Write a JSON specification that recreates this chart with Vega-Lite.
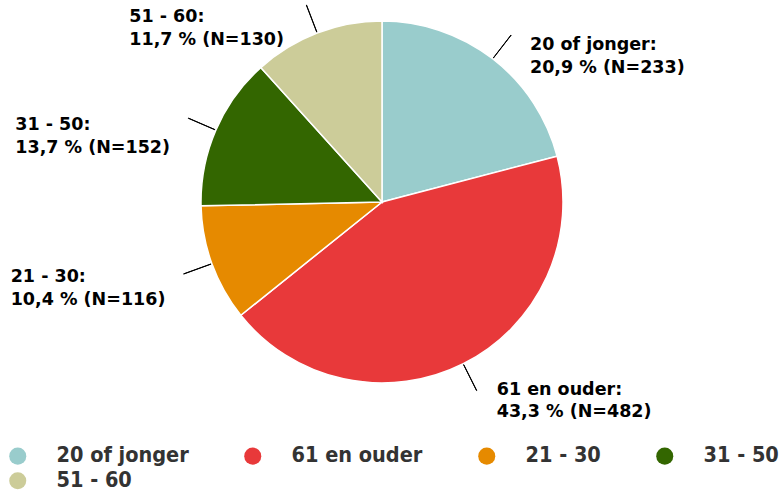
{
  "$schema": "https://vega.github.io/schema/vega-lite/v6.json",
  "width": 764,
  "height": 404,
  "padding": 0,
  "autosize": {"type": "pad"},
  "background": "white",
  "config": {"view": {"stroke": null}, "font": "DejaVu Sans"},
  "data": {
    "values": [
      {"cat": "20 of jonger", "n": 233, "pct": "20,9", "order": 1},
      {"cat": "61 en ouder", "n": 482, "pct": "43,3", "order": 2},
      {"cat": "21 - 30", "n": 116, "pct": "10,4", "order": 3},
      {"cat": "31 - 50", "n": 152, "pct": "13,7", "order": 4},
      {"cat": "51 - 60", "n": 130, "pct": "11,7", "order": 5}
    ]
  },
  "transform": [
    {"window": [{"op": "sum", "field": "n", "as": "cum"}], "sort": [{"field": "order"}], "frame": [null, 0]},
    {"calculate": "datum.cum - datum.n / 2", "as": "mid"},
    {"calculate": "datum.mid + 0.2", "as": "mid2"},
    {"calculate": "[datum.cat + ':', datum.pct + ' % (N=' + datum.n + ')']", "as": "label"}
  ],
  "layer": [
    {
      "mark": {"type": "arc", "radius": 181, "stroke": "white", "strokeWidth": 1.5},
      "encoding": {
        "theta": {"field": "n", "type": "quantitative", "stack": true},
        "order": {"field": "order", "type": "quantitative"},
        "color": {
          "field": "cat",
          "type": "nominal",
          "scale": {
            "domain": ["20 of jonger", "61 en ouder", "21 - 30", "31 - 50", "51 - 60"],
            "range": ["#99cccc", "#e8393a", "#e68a00", "#336600", "#cccc99"]
          },
          "legend": {
            "title": null,
            "orient": "none",
            "legendX": 7,
            "legendY": 445,
            "direction": "horizontal",
            "columns": 4,
            "gridAlign": "each",
            "columnPadding": 53,
            "rowPadding": 2,
            "symbolType": "circle",
            "symbolSize": 290,
            "symbolStrokeWidth": 0,
            "labelFont": "DejaVu Sans Condensed, DejaVu Sans",
            "labelFontSize": 21.5,
            "labelFontWeight": "bold",
            "labelColor": "#333333",
            "labelOffset": 28,
            "labelLimit": 300
          }
        }
      }
    },
    {
      "mark": {"type": "arc", "radius": 211, "radius2": 182, "stroke": "black", "strokeWidth": 1, "fill": "black"},
      "encoding": {
        "theta": {"field": "mid", "type": "quantitative", "stack": null},
        "theta2": {"field": "mid2"}
      }
    },
    {
      "transform": [{"filter": "datum.cat == '20 of jonger'"}],
      "mark": {"type": "text", "radius": 211, "align": "left", "baseline": "top", "dx": 19, "dy": 1, "fontSize": 17.5, "fontWeight": "bold", "lineHeight": 22.5, "color": "#000000"},
      "encoding": {"theta": {"field": "mid", "type": "quantitative", "stack": null}, "text": {"field": "label"}}
    },
    {
      "transform": [{"filter": "datum.cat == '61 en ouder'"}],
      "mark": {"type": "text", "radius": 211, "align": "left", "baseline": "top", "dx": 20, "dy": -10, "fontSize": 17.5, "fontWeight": "bold", "lineHeight": 22.5, "color": "#000000"},
      "encoding": {"theta": {"field": "mid", "type": "quantitative", "stack": null}, "text": {"field": "label"}}
    },
    {
      "transform": [{"filter": "datum.cat == '21 - 30'"}],
      "mark": {"type": "text", "radius": 211, "align": "left", "baseline": "top", "dx": -173, "dy": -6, "fontSize": 17.5, "fontWeight": "bold", "lineHeight": 22.5, "color": "#000000"},
      "encoding": {"theta": {"field": "mid", "type": "quantitative", "stack": null}, "text": {"field": "label"}}
    },
    {
      "transform": [{"filter": "datum.cat == '31 - 50'"}],
      "mark": {"type": "text", "radius": 211, "align": "left", "baseline": "top", "dx": -173, "dy": -2, "fontSize": 17.5, "fontWeight": "bold", "lineHeight": 22.5, "color": "#000000"},
      "encoding": {"theta": {"field": "mid", "type": "quantitative", "stack": null}, "text": {"field": "label"}}
    },
    {
      "transform": [{"filter": "datum.cat == '51 - 60'"}],
      "mark": {"type": "text", "radius": 211, "align": "left", "baseline": "top", "dx": -177, "dy": 3, "fontSize": 17.5, "fontWeight": "bold", "lineHeight": 22.5, "color": "#000000"},
      "encoding": {"theta": {"field": "mid", "type": "quantitative", "stack": null}, "text": {"field": "label"}}
    }
  ]
}
